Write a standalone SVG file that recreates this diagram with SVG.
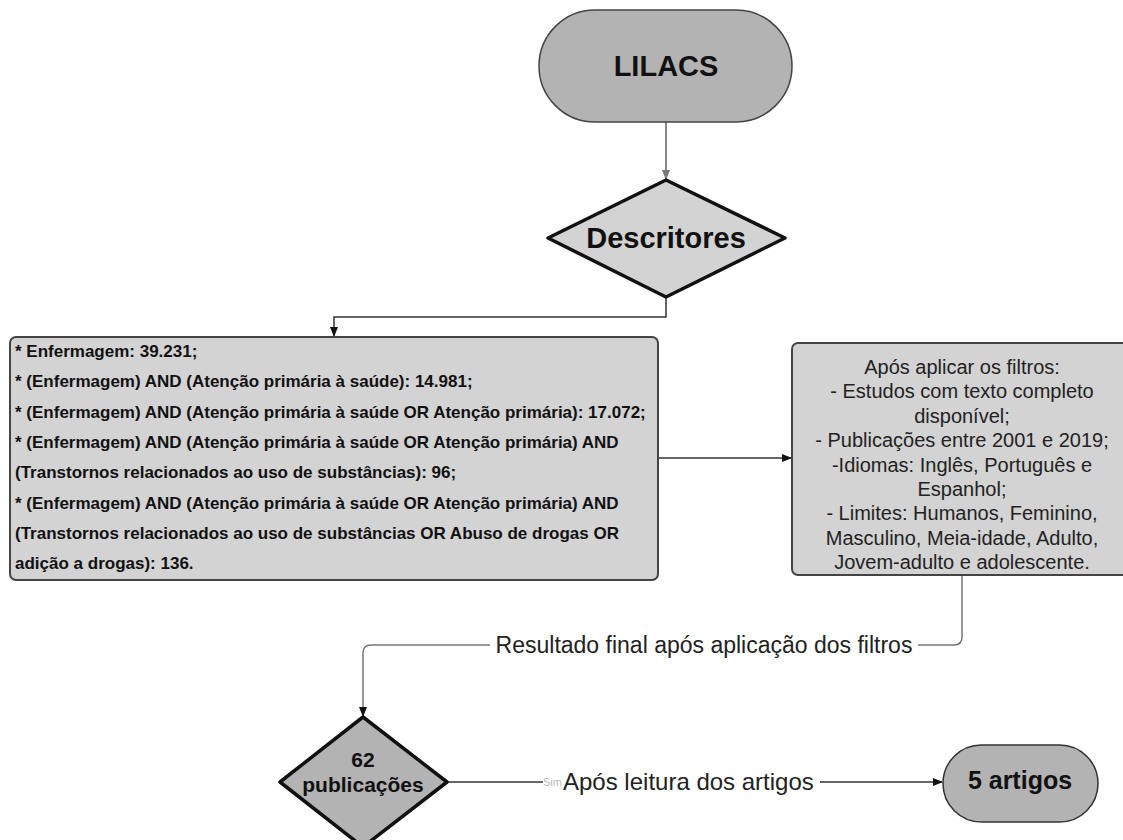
<svg xmlns="http://www.w3.org/2000/svg" width="1123" height="840" viewBox="0 0 1123 840">
<style>
.b{font-family:"Liberation Sans",Arial,sans-serif;font-weight:bold;fill:#111}
.r{font-family:"Liberation Sans",Arial,sans-serif;fill:#222}
.lt{font-size:17px}
.rt{font-size:20px;text-anchor:middle}
.c{fill:none;stroke:#333;stroke-width:1.5}
.g{fill:none;stroke:#888;stroke-width:2}
</style>
<defs>
<marker id="ah" markerWidth="10" markerHeight="10" refX="9" refY="5" orient="auto" markerUnits="userSpaceOnUse">
<path d="M0,1 L10,5 L0,9 Z" fill="#111"/>
</marker>
<marker id="ahg" markerWidth="10" markerHeight="10" refX="9" refY="5" orient="auto" markerUnits="userSpaceOnUse">
<path d="M0,1 L10,5 L0,9 Z" fill="#777"/>
</marker>
</defs>
<rect width="1123" height="840" fill="#fff"/>
<g id="connectors">
<path class="g" d="M666,122 L666,179" marker-end="url(#ahg)"/>
<path class="c" d="M666,297 L666,317 L334,317 L334,336" marker-end="url(#ah)"/>
<path class="c" d="M658,458 L791,458" marker-end="url(#ah)"/>
<path class="g" style="stroke-width:1.5;stroke:#777" d="M962,575 L962,637 Q962,645 954,645 L918,645"/>
<path class="g" style="stroke-width:1.5;stroke:#777" d="M490,645 L371,645 Q363,645 363,653 L363,716" marker-end="url(#ah)"/>
<text class="r" x="704" y="653" font-size="23" text-anchor="middle">Resultado final após aplicação dos filtros</text>
<path class="c" d="M447,782 L543,782"/>
<text class="r" x="543" y="786" font-size="11" fill="#bbb" style="fill:#bbb">Sim</text>
<text class="r" x="563" y="790" font-size="24">Após leitura dos artigos</text>
<path class="c" d="M820,782 L942,782" marker-end="url(#ah)"/>
</g>
<g id="lilacs">
<rect x="539" y="10" width="253" height="112" rx="56" fill="#b3b3b3" stroke="#444" stroke-width="1.5"/>
<text class="b" x="666" y="76" font-size="29" text-anchor="middle">LILACS</text>
</g>
<g id="descritores">
<polygon points="666,180 785,238 666,297 548,238" fill="#d3d3d3" stroke="#111" stroke-width="3.5" stroke-linejoin="round"/>
<text class="b" x="666" y="248" font-size="29" text-anchor="middle">Descritores</text>
</g>
<g id="buscas">
<rect x="10" y="337" width="648" height="243" rx="6" fill="#d3d3d3" stroke="#444" stroke-width="2"/>
<text class="b lt" x="15" y="357">* Enfermagem: 39.231;</text>
<text class="b lt" x="15" y="387">* (Enfermagem) AND (Atenção primária à saúde): 14.981;</text>
<text class="b lt" x="15" y="418">* (Enfermagem) AND (Atenção primária à saúde OR Atenção primária): 17.072;</text>
<text class="b lt" x="15" y="448">* (Enfermagem) AND (Atenção primária à saúde OR Atenção primária) AND</text>
<text class="b lt" x="15" y="478">(Transtornos relacionados ao uso de substâncias): 96;</text>
<text class="b lt" x="15" y="509">* (Enfermagem) AND (Atenção primária à saúde OR Atenção primária) AND</text>
<text class="b lt" x="15" y="539">(Transtornos relacionados ao uso de substâncias OR Abuso de drogas OR</text>
<text class="b lt" x="15" y="569">adição a drogas): 136.</text>
</g>
<g id="filtros">
<rect x="792" y="343" width="340" height="232" rx="6" fill="#d3d3d3" stroke="#444" stroke-width="2"/>
<text class="r rt" x="962" y="374">Após aplicar os filtros:</text>
<text class="r rt" x="962" y="398">- Estudos com texto completo</text>
<text class="r rt" x="962" y="423">disponível;</text>
<text class="r rt" x="962" y="447">- Publicações entre 2001 e 2019;</text>
<text class="r rt" x="962" y="472">-Idiomas: Inglês, Português e</text>
<text class="r rt" x="962" y="496">Espanhol;</text>
<text class="r rt" x="962" y="520">- Limites: Humanos, Feminino,</text>
<text class="r rt" x="962" y="545">Masculino, Meia-idade, Adulto,</text>
<text class="r rt" x="962" y="569">Jovem-adulto e adolescente.</text>
</g>
<g id="publicacoes">
<polygon points="363,717 447,782 363,847 280,782" fill="#b3b3b3" stroke="#111" stroke-width="3.5" stroke-linejoin="round"/>
<text class="b" x="363" y="767" font-size="21" text-anchor="middle">62</text>
<text class="b" x="363" y="792" font-size="21" text-anchor="middle">publicações</text>
</g>
<g id="artigos">
<rect x="943" y="745" width="155" height="77" rx="38.5" fill="#b3b3b3" stroke="#333" stroke-width="1.5"/>
<text class="b" x="1020" y="789" font-size="25" text-anchor="middle">5 artigos</text>
</g>
</svg>
